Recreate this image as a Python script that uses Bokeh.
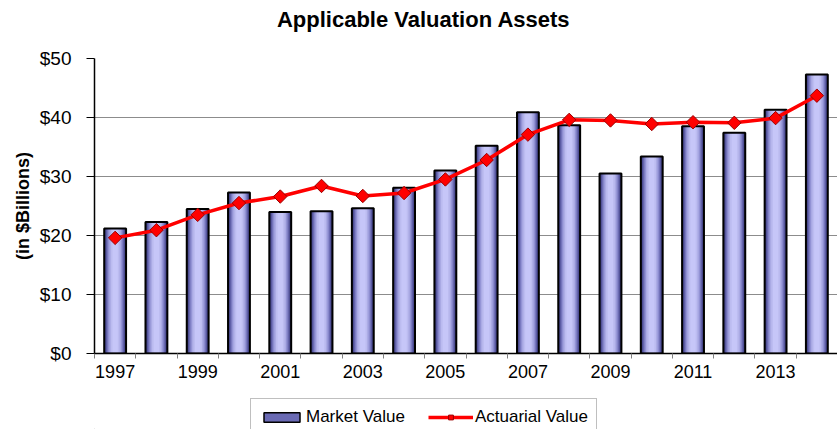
import math
from bokeh.plotting import figure
from bokeh.layouts import column
from bokeh.models import (Range1d, FixedTicker, NumeralTickFormatter, Legend, LegendItem, Label)
from bokeh.embed import file_html
from bokeh.resources import INLINE

years = list(range(1997, 2015))
market_value = [21.2, 22.3, 24.5, 27.3, 24.0, 24.1, 24.6, 28.1, 31.0, 35.2,
                40.9, 38.7, 30.5, 33.4, 38.5, 37.4, 41.3, 47.3]
actuarial_value = [19.6, 20.9, 23.5, 25.5, 26.6, 28.4, 26.7, 27.2, 29.5, 32.8,
                   37.1, 39.6, 39.5, 38.9, 39.2, 39.1, 39.9, 43.7]
label_years = [1997, 1999, 2001, 2003, 2005, 2007, 2009, 2011, 2013]
y_ticks = [0, 10, 20, 30, 40, 50]

FONT = "Liberation Sans"
W = 837
LB = 94

# title strip
tf = figure(width=W, height=40, output_backend="svg", toolbar_location=None,
            x_range=Range1d(0, 1), y_range=Range1d(0, 1), tools="",
            min_border_left=LB, min_border_right=0, min_border_top=0, min_border_bottom=0)
tf.axis.visible = False
tf.grid.visible = False
tf.outline_line_color = None
tf.add_layout(Label(x=0.443, y=0.53, text="Applicable Valuation Assets",
                    text_align="center", text_baseline="middle", text_font=FONT,
                    text_font_size="22px", text_font_style="bold", text_color="black"))

p = figure(width=W, height=353, output_backend="svg", toolbar_location=None,
           x_range=Range1d(1996.5, 2014.5), y_range=Range1d(0, 50),
           min_border_left=LB, min_border_right=0, min_border_top=18,
           min_border_bottom=40, tools="")
p.outline_line_color = None
p.background_fill_color = "white"

# bars with a horizontal shading effect (layered)
layers = [(0.53, "#30306a"), (0.49, "#46468a"), (0.44, "#5e5ea6"), (0.39, "#7878be"),
          (0.34, "#9292d4"), (0.28, "#aaaae4"), (0.21, "#bcbcf0"), (0.13, "#c6c6f8")]
for w, c in layers:
    p.vbar(x=years, top=market_value, width=w, bottom=0, fill_color=c, line_color=None)
p.vbar(x=years, top=market_value, width=0.53, bottom=0,
       fill_color=None, line_color="black", line_width=2)

p.line(years, actuarial_value, line_color="#ff0000", line_width=3.5)
p.scatter(years, actuarial_value, marker="square", angle=math.pi / 4, size=9.5,
          fill_color="#ff0000", line_color="#990000", line_width=1)

# axes
yax = p.yaxis[0]
yax.ticker = FixedTicker(ticks=y_ticks)
yax.formatter = NumeralTickFormatter(format="$0")
yax.major_label_text_font = FONT
yax.major_label_text_font_size = "19px"
yax.major_label_text_color = "black"
yax.major_tick_out = 8
yax.major_tick_in = 0
yax.minor_tick_out = 0
yax.minor_tick_in = 0
yax.major_label_standoff = 15
yax.axis_line_color = "black"
yax.axis_line_width = 1.5
yax.axis_label = "(in $Billions)"
yax.axis_label_text_font = FONT
yax.axis_label_text_font_size = "18px"
yax.axis_label_text_font_style = "bold"
yax.axis_label_text_color = "black"
yax.axis_label_standoff = 4

xax = p.xaxis[0]
xax.ticker = FixedTicker(ticks=label_years, minor_ticks=[y + 0.5 for y in years[:-1]] + [1996.5])
xax.major_tick_out = 0
xax.major_tick_in = 0
xax.minor_tick_out = 5
xax.minor_tick_in = 0
xax.minor_tick_line_color = "#808080"
xax.major_label_text_font = FONT
xax.major_label_text_font_size = "18px"
xax.major_label_text_color = "black"
xax.major_label_standoff = 6
xax.axis_line_color = "black"
xax.axis_line_width = 1.5

p.xgrid.grid_line_color = None
p.ygrid.ticker = FixedTicker(ticks=y_ticks)
p.ygrid.grid_line_color = "#8c8c8c"
p.ygrid.grid_line_width = 1

# legend strip
lg = figure(width=W, height=36, output_backend="svg", toolbar_location=None,
            x_range=Range1d(0, 1), y_range=Range1d(0, 1), tools="",
            min_border_left=LB, min_border_right=0, min_border_top=0, min_border_bottom=0)
lg.axis.visible = False
lg.grid.visible = False
lg.outline_line_color = None
# legend-only renderers, placed well outside the visible range
sw = lg.vbar(x=[-50], top=[-50], bottom=-51, width=0.5, fill_color="#6a6ab4",
             line_color="black", line_width=1.5)
ln = lg.line(x=[-50, -49], y=[-50, -50], line_color="#ff0000", line_width=3.5)
mk = lg.scatter(x=[-50], y=[-50], marker="square", angle=math.pi / 4, size=7,
                fill_color="#ff0000", line_color="#990000", line_width=1)

legend = Legend(items=[
    LegendItem(label="Market Value", renderers=[sw]),
    LegendItem(label="Actuarial Value", renderers=[ln, mk]),
], orientation="horizontal", location=(156, -7))
legend.label_text_font = FONT
legend.label_text_font_size = "17px"
legend.label_text_color = "black"
legend.glyph_width = 45
legend.glyph_height = 12
legend.label_standoff = 2
legend.spacing = 23
legend.padding = 8
legend.margin = 0
legend.border_line_color = "#808080"
legend.border_line_width = 1
legend.background_fill_color = "white"
lg.add_layout(legend, "center")

layout = column(tf, p, lg, spacing=0)
open("out.html", "w").write(file_html(layout, INLINE))
